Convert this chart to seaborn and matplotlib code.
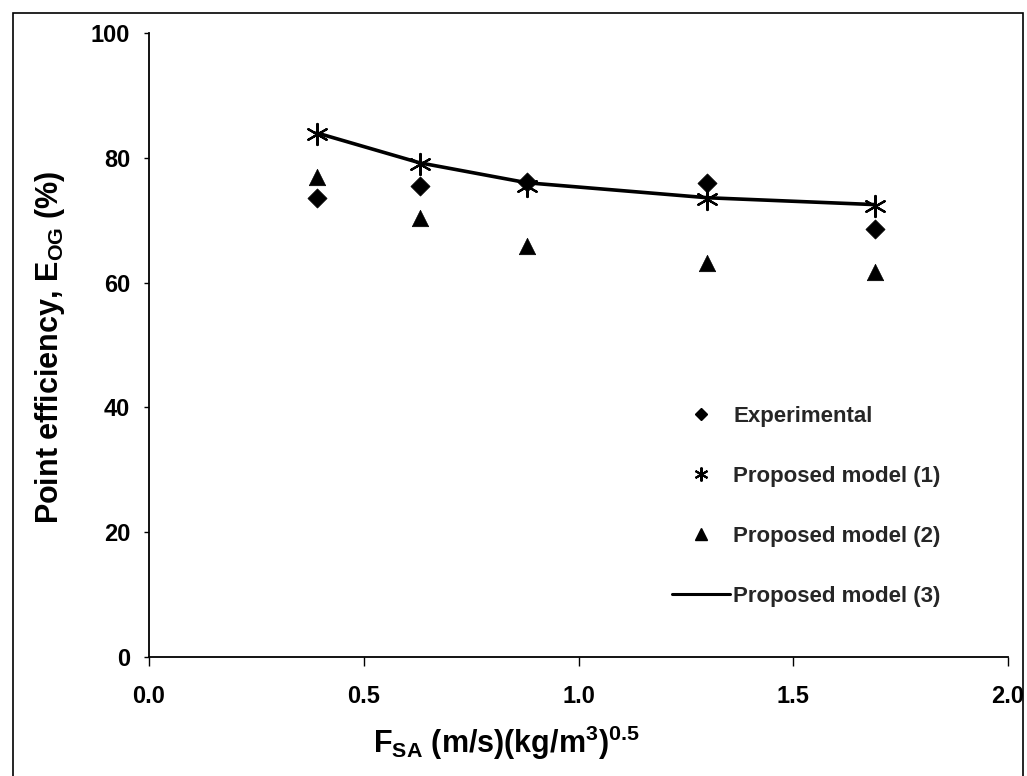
import matplotlib
matplotlib.use("Agg")
import matplotlib.pyplot as plt
import seaborn as sns
import pandas as pd
from matplotlib.patches import Rectangle
from matplotlib.lines import Line2D

# ---- data ----
fsa = [0.39, 0.63, 0.88, 1.30, 1.69]
experimental = [73.6, 75.5, 76.2, 76.0, 68.6]
model1 = [83.8, 79.0, 75.5, 73.4, 72.2]
model2 = [76.9, 70.4, 65.8, 63.1, 61.7]
model3 = [84.0, 79.2, 76.0, 73.6, 72.5]
x_ticks = [0.0, 0.5, 1.0, 1.5, 2.0]
x_tick_labels = ["0.0", "0.5", "1.0", "1.5", "2.0"]
y_ticks = [0, 20, 40, 60, 80, 100]
series_labels = ["Experimental", "Proposed model (1)", "Proposed model (2)", "Proposed model (3)"]

sns.set_theme(style="ticks")
plt.rcParams['font.family'] = ['Liberation Sans', 'DejaVu Sans']
plt.rcParams['font.weight'] = 'bold'
plt.rcParams['mathtext.fontset'] = 'custom'
plt.rcParams['mathtext.rm'] = 'Liberation Sans:bold'
plt.rcParams['mathtext.it'] = 'Liberation Sans:bold'
plt.rcParams['mathtext.bf'] = 'Liberation Sans:bold'
plt.rcParams['mathtext.default'] = 'rm'

W, H = 1027, 776
fig = plt.figure(figsize=(W / 100, H / 100), dpi=100)
ax = fig.add_axes([149 / W, 1 - 657 / H, (1008 - 149) / W, (657 - 33) / H])

df = pd.DataFrame({"fsa": fsa, "exp": experimental, "m1": model1,
                   "m2": model2, "m3": model3})

sns.lineplot(data=df, x="fsa", y="m3", color="black", linewidth=2.6, ax=ax,
             legend=False, zorder=2)
sns.scatterplot(data=df, x="fsa", y="exp", marker="D", s=95, color="black",
                edgecolor="black", linewidth=0.5, ax=ax, legend=False, zorder=3)
sns.scatterplot(data=df, x="fsa", y="m2", marker="^", s=140, color="black",
                edgecolor="black", linewidth=0.5, ax=ax, legend=False, zorder=3)
sns.scatterplot(data=df, x="fsa", y="m1", marker=(6, 2, 0), s=230, color="black",
                edgecolor="black", linewidth=1.6, ax=ax, legend=False, zorder=4)

ax.set_xlim(0, 2.0)
ax.set_ylim(0, 100)
ax.set_xticks(x_ticks)
ax.set_xticklabels(x_tick_labels)
ax.set_yticks(y_ticks)
sns.despine(ax=ax)
for sp in ("left", "bottom"):
    ax.spines[sp].set_linewidth(1.3)
    ax.spines[sp].set_color("black")
ax.tick_params(axis="x", direction="out", length=6.5, width=1.0, pad=14,
               labelsize=17, colors="black")
ax.tick_params(axis="y", direction="out", length=3.6, width=1.0, pad=10,
               labelsize=17, colors="black")
for lab in ax.get_xticklabels() + ax.get_yticklabels():
    lab.set_fontweight("bold")

ax.set_xlabel(r"F$_{\mathrm{SA}}$ (m/s)(kg/m$^{3}$)$^{0.5}$", fontsize=22,
              fontweight="bold", color="black")
ax.set_ylabel(r"Point efficiency, E$_{\mathrm{OG}}$ (%)", fontsize=22,
              fontweight="bold", color="black")
ax.xaxis.set_label_coords(0.416, -0.107)
ax.yaxis.set_label_coords(-0.096, 0.496)

handles = [
    Line2D([], [], marker="D", ls="none", color="black", markersize=6.5),
    Line2D([], [], marker=(6, 2, 0), ls="none", color="black", markersize=10,
           markeredgewidth=1.5),
    Line2D([], [], marker="^", ls="none", color="black", markersize=9),
    Line2D([], [], color="black", linewidth=2.2),
]
ax.legend(handles, series_labels, loc="upper left",
          bbox_to_anchor=(672 / W, 1 - 406 / H), bbox_transform=fig.transFigure,
          frameon=False, borderpad=0, borderaxespad=0, handlelength=2.6,
          handletextpad=0.15, labelspacing=1.75,
          prop={"size": 16, "weight": "bold"})

fig.add_artist(Rectangle((13 / W, -0.01), (1023 - 13) / W, 1 - 13 / H + 0.01,
                         transform=fig.transFigure, fill=False,
                         edgecolor="black", linewidth=1.2))

fig.savefig("out.png", dpi=100)
